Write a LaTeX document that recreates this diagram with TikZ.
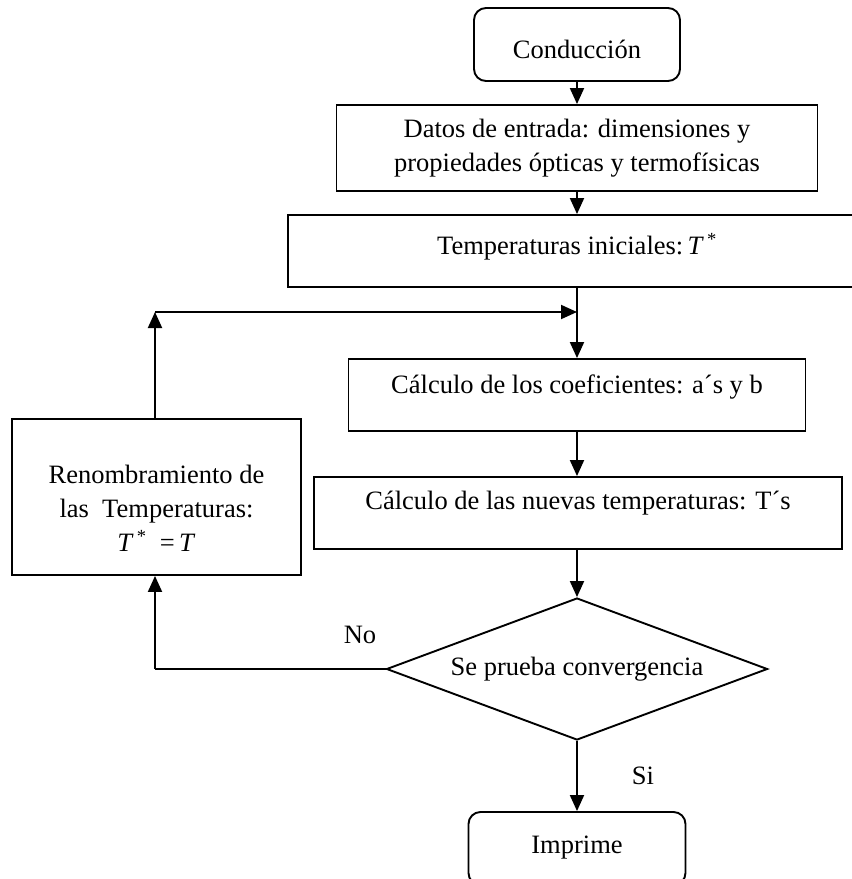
\documentclass[tikz,border=0pt]{standalone}
\usepackage{fontspec}
\setmainfont{Liberation Serif}
\usetikzlibrary{arrows.meta,shapes.geometric}

\newcommand{\Tstar}{\textit{T}\textsuperscript{\,*}}

\tikzset{
  every node/.style={font=\fontsize{26.5}{34}\selectfont},
  line/.style={line width=1.9pt},
  arr/.style={line, -{Triangle[length=16pt,width=14pt]}},
  box/.style={draw, line width=1.9pt, rectangle, inner sep=0pt},
  roundbox/.style={box, rounded corners=12pt},
  txt/.style={align=center, inner sep=0pt},
}

\begin{document}
\begin{tikzpicture}[x=1pt, y=-1pt]
  \useasboundingbox (0,0) rectangle (852,879);
  \begin{scope}
    \clip (0,0) rectangle (852,879);

    % process boxes
    \node[roundbox, minimum width=206pt, minimum height=73pt] (cond) at (577,44.5) {};
    \node[txt] (condt) at (577,49) {Conducción};

    \node[box, minimum width=481pt, minimum height=86pt] (datos) at (577,148) {};
    \node[txt] (datost) at (577,148) {Datos de entrada: dimensiones y\\propiedades ópticas y termofísicas};

    \node[box, minimum width=578pt, minimum height=72pt] (tini) at (577,251) {};
    \node[txt] (tinit) at (577,247) {Temperaturas iniciales:\,\Tstar};

    \node[box, minimum width=457pt, minimum height=72pt] (coef) at (577,395) {};
    \node[txt] (coeft) at (577,387) {Cálculo de los coeficientes: a´s y b};

    \node[box, minimum width=528pt, minimum height=72pt] (nuev) at (578,513) {};
    \node[txt] (nuevt) at (578,503) {Cálculo de las nuevas temperaturas: T´s};

    \node[box, minimum width=289pt, minimum height=156pt] (ren) at (156.5,497) {};
    \node[txt] (rent) at (156.5,508) {Renombramiento de\\las\ \ Temperaturas:\\\Tstar\enspace=\,\textit{T}};

    % decision
    \node[diamond, draw, line width=1.9pt, inner sep=0pt, aspect=2.68,
          minimum width=381pt, minimum height=142pt] (dec) at (577,669)
          {Se prueba convergencia};

    \node[roundbox, minimum width=217pt, minimum height=73pt] (imp) at (577,848.5) {};
    \node[txt] (impt) at (577,848) {Imprime};
  \end{scope}

  % junction points of the iteration loop
  \coordinate (merge) at (577,312);
  \coordinate (corner) at (155,312);
  \coordinate (nocorner) at (155,669);

  % main flow
  \draw[arr] (cond.south) -- (datos.north);
  \draw[arr] (datos.south) -- (tini.north);
  \draw[arr] (tini.south) -- (coef.north);
  \draw[arr] (coef.south) -- (coef.south |- nuev.north);
  \draw[arr] (coef.south |- nuev.south) -- (dec.north);
  \draw[arr] (dec.south) -- (imp.north);

  % loop back
  \draw[line] (dec.west) -- (nocorner);
  \draw[arr] (nocorner) -- (ren.south -| nocorner);
  \draw[arr] (ren.north -| corner) -- (corner);
  \draw[arr] (corner) -- (merge);

  % branch labels
  \node (no) at (360,635) {No};
  \node (si) at (643,776) {Si};
\end{tikzpicture}
\end{document}
